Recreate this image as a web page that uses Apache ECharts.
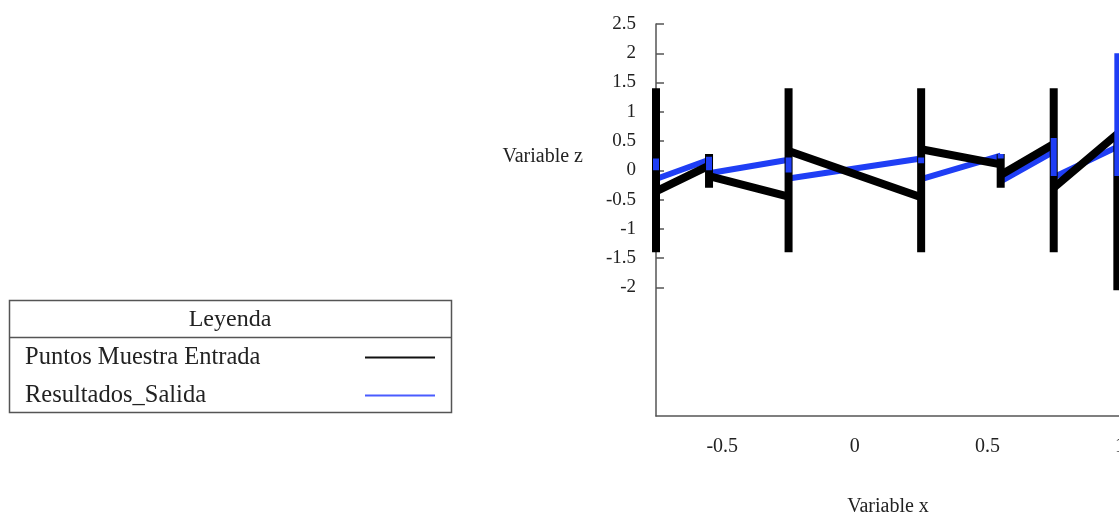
<!DOCTYPE html>
<html>
<head>
<meta charset="utf-8">
<title>Variable z vs Variable x</title>
<script src="https://cdn.jsdelivr.net/npm/echarts@6/dist/echarts.min.js"></script>
<style>
  html, body { margin: 0; padding: 0; background: #ffffff; }
  #chart { width: 1119px; height: 512px; }
</style>
</head>
<body>
<div id="chart"></div>
<script>
// Sample positions along x
const xs = [-0.75, -0.55, -0.25, 0.25, 0.55, 0.75, 0.99];

// "Puntos Muestra Entrada": vertical span at each x, plus the ends of the
// connecting segments (value where a segment arrives / leaves at that x)
const entradaTop    = [1.4, 0.28, 1.4, 1.4, 0.28, 1.4, 0.62];
const entradaBottom = [-1.4, -0.3, -1.4, -1.4, -0.3, -1.4, -2.05];
const entradaIn     = [null, 0.08, -0.45, -0.46, 0.1, 0.45, 0.62];
const entradaOut    = [-0.36, -0.1, 0.33, 0.36, -0.08, -0.3, null];

// "Resultados_Salida": same layout
const salidaTop    = [0.2, 0.23, 0.22, 0.22, 0.28, 0.55, 2.0];
const salidaBottom = [0.0, 0.0, -0.04, 0.12, 0.2, -0.1, -0.1];
const salidaIn     = [null, 0.18, 0.18, 0.2, 0.25, 0.32, 0.4];
const salidaOut    = [-0.15, -0.05, -0.14, -0.15, -0.19, -0.12, null];

// Axis tick labels
const xTickValues = [-0.5, 0, 0.5, 1];
const yTickValues = [-2, -1.5, -1, -0.5, 0, 0.5, 1, 1.5, 2, 2.5];

const GAP = ['-', '-'];

function verticalSpans(top, bottom) {
  const out = [];
  xs.forEach((x, i) => { out.push([x, top[i]], [x, bottom[i]], GAP); });
  return out;
}
function connectors(outVals, inVals) {
  const out = [];
  for (let i = 0; i < xs.length - 1; i++) {
    out.push([xs[i], outVals[i]], [xs[i + 1], inVals[i + 1]], GAP);
  }
  return out;
}

const FONT = "'Liberation Serif', 'Times New Roman', serif";
const BLACK = '#000000';
const BLUE = '#1f3ef5';

const chart = echarts.init(document.getElementById('chart'), null, { renderer: 'canvas' });

chart.setOption({
  animation: false,
  backgroundColor: '#ffffff',
  textStyle: { fontFamily: FONT, color: '#222' },
  grid: { left: 656, top: 24, width: 464, height: 392, containLabel: false, outerBoundsMode: 'none' },
  xAxis: {
    type: 'value',
    min: -0.75,
    max: 1.0,
    name: 'Variable x',
    nameLocation: 'middle',
    nameGap: 81,
    nameTextStyle: { fontFamily: FONT, fontSize: 20, color: '#222' },
    axisLine: { show: true, onZero: false, lineStyle: { color: '#555', width: 1.5 } },
    axisTick: { show: false },
    splitLine: { show: false },
    axisLabel: {
      customValues: xTickValues,
      margin: 21,
      hideOverlap: false,
      fontFamily: FONT, fontSize: 20, color: '#222',
      formatter: v => String(v)
    }
  },
  yAxis: {
    type: 'value',
    min: -4.2,
    max: 2.5,
    axisLine: { show: true, onZero: false, lineStyle: { color: '#555', width: 1.5 } },
    axisTick: {
      show: true, inside: true, length: 8,
      customValues: yTickValues,
      lineStyle: { color: '#555', width: 1.5 }
    },
    splitLine: { show: false },
    axisLabel: {
      customValues: yTickValues,
      margin: 20,
      fontFamily: FONT, fontSize: 19, color: '#222',
      formatter: v => String(v)
    }
  },
  legend: {
    orient: 'vertical',
    left: 25,
    top: 345,
    padding: 0,
    itemGap: 13,
    align: 'right',
    itemWidth: 70,
    itemHeight: 2,
    icon: 'rect',
    selectedMode: false,
    formatter: name => '{t|' + name + '}',
    textStyle: {
      fontFamily: FONT, fontSize: 24, color: '#222', lineHeight: 24,
      rich: { t: { fontFamily: FONT, fontSize: 24.5, color: '#222', width: 335, align: 'left', lineHeight: 24 } }
    },
    data: [
      { name: 'Puntos Muestra Entrada', itemStyle: { color: '#111' } },
      { name: 'Resultados_Salida', itemStyle: { color: '#4a5cff' } }
    ]
  },
  graphic: [
    {
      type: 'rect',
      shape: { x: 9.5, y: 300.5, width: 442, height: 112 },
      style: { fill: 'none', stroke: '#555', lineWidth: 1.5 }
    },
    {
      type: 'line',
      shape: { x1: 9.5, y1: 337.5, x2: 451.5, y2: 337.5 },
      style: { stroke: '#555', lineWidth: 1.5 }
    },
    {
      type: 'text',
      x: 230, y: 320,
      style: { text: 'Leyenda', fontFamily: FONT, fontSize: 24, fill: '#222', align: 'center', verticalAlign: 'middle' }
    },
    {
      type: 'text',
      x: 583, y: 157,
      style: { text: 'Variable z', fontFamily: FONT, fontSize: 20, fill: '#222', align: 'right', verticalAlign: 'middle' }
    }
  ],
  series: [
    {
      name: 'Resultados_Salida',
      type: 'line',
      data: connectors(salidaOut, salidaIn),
      showSymbol: false, symbol: 'none',
      connectNulls: false,
      color: BLUE,
      lineStyle: { color: BLUE, width: 6, cap: 'butt' },
      z: 2
    },
    {
      name: 'Puntos Muestra Entrada',
      type: 'line',
      data: verticalSpans(entradaTop, entradaBottom),
      showSymbol: false, symbol: 'none',
      connectNulls: false,
      color: BLACK,
      lineStyle: { color: BLACK, width: 8, cap: 'butt' },
      z: 3
    },
    {
      name: 'Puntos Muestra Entrada',
      type: 'line',
      data: connectors(entradaOut, entradaIn),
      showSymbol: false, symbol: 'none',
      connectNulls: false,
      color: BLACK,
      lineStyle: { color: BLACK, width: 8, cap: 'butt' },
      z: 4
    },
    {
      name: 'Resultados_Salida',
      type: 'line',
      data: verticalSpans(salidaTop, salidaBottom),
      showSymbol: false, symbol: 'none',
      connectNulls: false,
      color: BLUE,
      lineStyle: { color: BLUE, width: 6, cap: 'butt' },
      z: 5
    }
  ]
});
</script>
</body>
</html>
